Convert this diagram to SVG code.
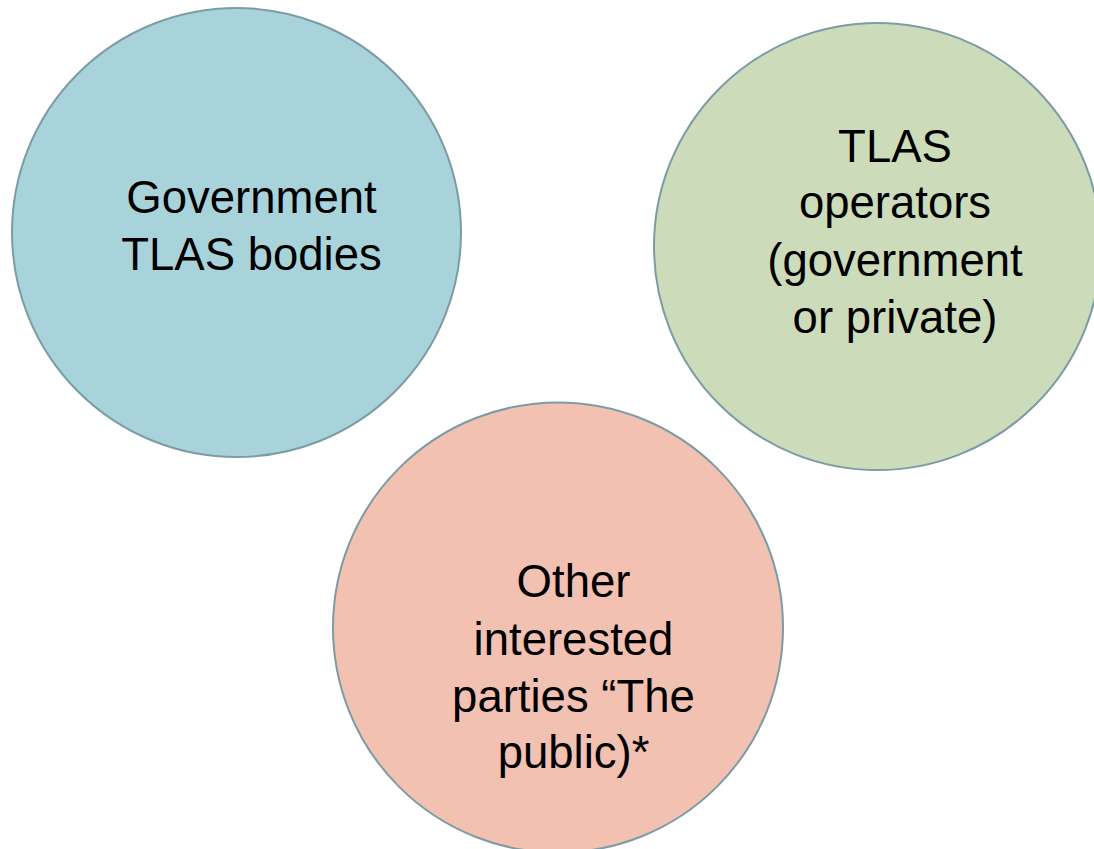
<svg xmlns="http://www.w3.org/2000/svg" width="1094" height="849" viewBox="0 0 1094 849">
<style>
.c{stroke:#7B9CA4;stroke-width:2}
.t{font-family:"Liberation Sans",Arial,sans-serif;font-size:45.5px;fill:#000;text-anchor:middle}
</style>
<rect width="1094" height="849" fill="#fff"/>
<g id="government">
<circle class="c" cx="236.5" cy="232.5" r="224.5" fill="#A9D3DA"/>
<text class="t" x="251.5"><tspan x="251.5" y="213">Government</tspan><tspan x="251.5" y="269.5">TLAS bodies</tspan></text>
</g>
<g id="operators">
<circle class="c" cx="877.5" cy="246.5" r="223.5" fill="#CCDCBB"/>
<text class="t"><tspan x="895" y="161.5">TLAS</tspan><tspan x="895" y="218">operators</tspan><tspan x="895" y="276">(government</tspan><tspan x="895" y="333">or private)</tspan></text>
</g>
<g id="public">
<circle class="c" cx="558" cy="627.5" r="225" fill="#F2C1B2"/>
<text class="t"><tspan x="573.5" y="597">Other</tspan><tspan x="573.5" y="655">interested</tspan><tspan x="573.5" y="712">parties “The</tspan><tspan x="573.5" y="768">public)*</tspan></text>
</g>
<g id="connectors"></g>
</svg>
